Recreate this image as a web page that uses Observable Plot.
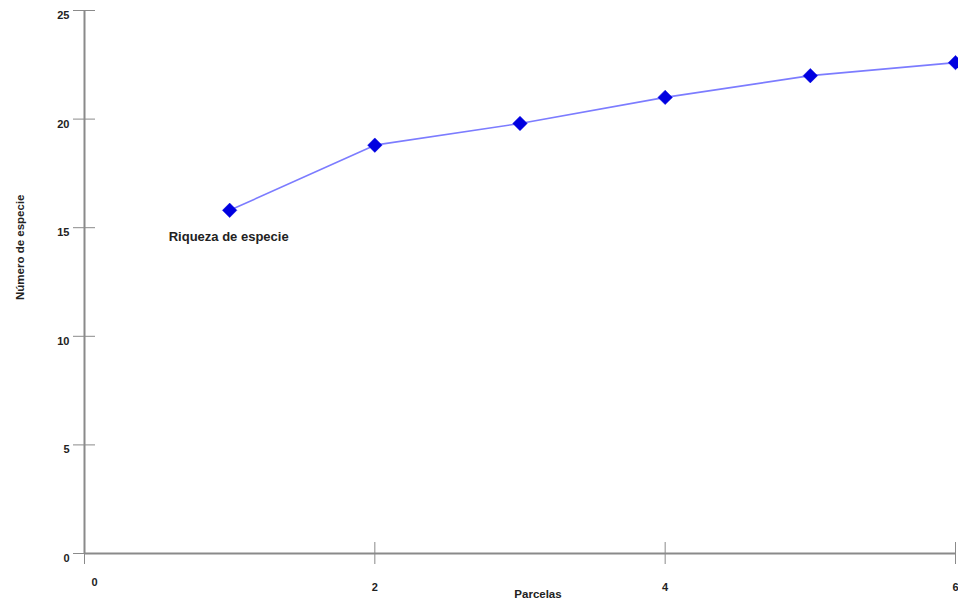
<!DOCTYPE html>
<html>
<head>
<meta charset="utf-8">
<script src="https://cdn.jsdelivr.net/npm/d3@7"></script>
<script src="https://cdn.jsdelivr.net/npm/@observablehq/plot@0.6"></script>
<style>
  body { margin: 0; background: #fff; }
  svg { font-family: "Liberation Sans", Arial, sans-serif; font-weight: bold; }
</style>
</head>
<body>
<div id="chart"></div>
<script>
const parcelas = [1, 2, 3, 4, 5, 6];
const riqueza = [15.8, 18.8, 19.8, 21.0, 22.0, 22.6];
const xTicks = [2, 4, 6];
const yTicks = [0, 5, 10, 15, 20, 25];
const seriesLabel = "Riqueza de especie";
const xTitle = "Parcelas";
const yTitle = "Número de especie";

const data = parcelas.map((p, i) => ({parcela: p, valor: riqueza[i]}));

const chart = Plot.plot({
  width: 958,
  height: 603,
  marginLeft: 84,
  marginRight: 3,
  marginTop: 10,
  marginBottom: 50,
  style: {fontSize: "11px", fontWeight: "bold", fontFamily: "Liberation Sans, Arial, sans-serif", color: "#222"},
  x: {domain: [0, 6]},
  y: {domain: [0, 25]},
  marks: [
    // axis lines
    Plot.ruleX([0], {y1: 0, y2: 25, stroke: "#8a8a8a", strokeWidth: 2}),
    Plot.ruleY([0], {x1: 0, x2: 6, stroke: "#8a8a8a", strokeWidth: 2}),
    // ticks crossing axes
    Plot.axisY(yTicks, {tickSize: 22, dx: 11, tickFormat: () => "", stroke: "#8a8a8a", label: null}),
    Plot.axisX([0, ...xTicks], {tickSize: 22, dy: -11, tickFormat: () => "", stroke: "#8a8a8a", label: null}),
    // tick labels
    Plot.axisY(yTicks, {tickSize: 0, tickPadding: 15, dy: 5, label: null, tickFormat: d => String(d), fill: "#222", fontSize: 11}),
    Plot.axisX(xTicks, {tickSize: 0, tickPadding: 30, label: null, tickFormat: d => String(d), fill: "#222", fontSize: 11}),
    Plot.text([0], {x: d => d, y: 0, dx: 10, dy: 29, fill: "#222", fontSize: 11}),
    // axis titles
    Plot.text([xTitle], {x: 3, y: 0, dx: 18, dy: 41, fill: "#222", fontSize: 11.5}),
    Plot.text([yTitle], {x: 0, y: 14.1, dx: -64, rotate: -90, fill: "#222", fontSize: 11.5}),
    // series
    Plot.line(data, {x: "parcela", y: "valor", stroke: "#7c7cff", strokeWidth: 1.6}),
    Plot.dot(data, {x: "parcela", y: "valor", symbol: "diamond2", r: 6.5, fill: "#0000e0", stroke: "#0000e0", strokeWidth: 0.5}),
    Plot.text([data[0]], {x: "parcela", y: "valor", text: () => seriesLabel, dx: -1, dy: 27, fill: "#222", fontSize: 13})
  ]
});
document.getElementById("chart").appendChild(chart);
</script>
</body>
</html>
